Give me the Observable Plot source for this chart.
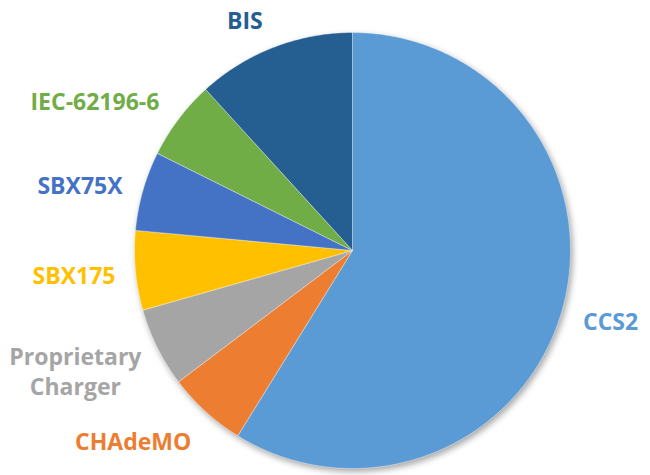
<!DOCTYPE html>
<html>
<head>
<meta charset="utf-8">
<script src="https://cdn.jsdelivr.net/npm/d3@7"></script>
<script src="https://cdn.jsdelivr.net/npm/@observablehq/plot@0.6"></script>
<style>
  html, body { margin: 0; padding: 0; background: #fff; }
  #chart svg g[aria-label="line"] { filter: drop-shadow(2px 3px 3px rgba(0,0,0,0.35)); }
</style>
</head>
<body>
<div id="chart"></div>
<script>
// Data
const categories = ["CCS2", "CHAdeMO", "Proprietary Charger", "SBX175", "SBX75X", "IEC-62196-6", "BIS"];
const counts = [10, 1, 1, 1, 1, 1, 2];
const labels = ["CCS2", "CHAdeMO", "Proprietary\nCharger", "SBX175", "SBX75X", "IEC-62196-6", "BIS"];

// Styles
const colors = ["#5B9BD5", "#ED7D31", "#A5A5A5", "#FFC000", "#4472C4", "#70AD47", "#255E91"];
// Label layout: radius (in pie radii) and angular nudge (degrees) from each slice's mid-angle
const labelRadius = [1.226, 1.332, 1.385, 1.282, 1.286, 1.368, 1.169];
const labelNudge = [-0.8, 6.7, 3.1, 0.4, -2.3, -6.8, -3.8];

const total = d3.sum(counts);
const slices = [];
let acc = 0;
counts.forEach((v, i) => {
  const a0 = acc / total * 2 * Math.PI;
  acc += v;
  const a1 = acc / total * 2 * Math.PI;
  slices.push({name: categories[i], label: labels[i], a0, a1, mid: (a0 + a1) / 2, i});
});

// Polygon vertices for each wedge (angle clockwise from 12 o'clock)
const pts = [];
for (const s of slices) {
  pts.push({name: s.name, x: 0, y: 0});
  const n = Math.max(2, Math.ceil((s.a1 - s.a0) / (Math.PI / 360)));
  for (let k = 0; k <= n; k++) {
    const a = s.a0 + (s.a1 - s.a0) * k / n;
    pts.push({name: s.name, x: Math.sin(a), y: Math.cos(a)});
  }
  pts.push({name: s.name, x: 0, y: 0});
}

const labelData = slices.map(s => {
  const a = s.mid + labelNudge[s.i] * Math.PI / 180;
  const r = labelRadius[s.i];
  return {name: s.name, label: s.label, x: r * Math.sin(a), y: r * Math.cos(a)};
});

const chart = Plot.plot({
  width: 650,
  height: 475,
  marginLeft: 134,
  marginRight: 80,
  marginTop: 32,
  marginBottom: 7,
  x: {domain: [-1, 1], axis: null},
  y: {domain: [-1, 1], axis: null},
  color: {domain: categories, range: colors},
  style: {fontFamily: "'Open Sans', sans-serif", background: "#fff", overflow: "visible"},
  marks: [
    Plot.line(pts, {x: "x", y: "y", z: "name", fill: "name", stroke: "#fff", strokeWidth: 0.4, curve: "linear"}),
    Plot.text(labelData, {
      x: "x", y: "y", text: "label", fill: "name",
      fontSize: 23, fontWeight: "bold", lineAnchor: "middle", textAnchor: "middle", lineHeight: 1.3
    })
  ]
});
document.getElementById("chart").appendChild(chart);
</script>
</body>
</html>
